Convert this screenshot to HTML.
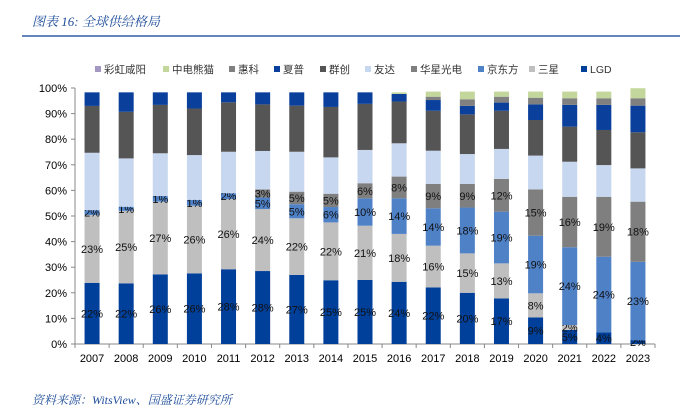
<!DOCTYPE html>
<html><head><meta charset="utf-8">
<style>
body{margin:0;background:#fff;width:680px;height:406px;overflow:hidden;font-family:"Liberation Sans","Noto Sans CJK SC",sans-serif;}
svg{display:block}
</style></head>
<body>
<svg id="chart" width="680" height="406" xmlns="http://www.w3.org/2000/svg">
<text x="32" y="26" font-size="13" font-style="italic" fill="#1f4e9a" font-family="Liberation Serif,Noto Serif CJK SC,serif">图表 16:  全球供给格局</text>
<line x1="22" y1="36" x2="680" y2="36" stroke="#2e5da8" stroke-width="1.5"/>
<g id="legend"></g>
<g id="axes"></g>
<g id="bars"></g>
<text x="32" y="404" font-size="12" font-style="italic" fill="#1f4e9a" font-family="Liberation Serif,Noto Serif CJK SC,serif">资料来源：WitsView、国盛证券研究所</text>
</svg>
<script>
const years=["2007","2008","2009","2010","2011","2012","2013","2014","2015","2016","2017","2018","2019","2020","2021","2022","2023"];
const lgd=[23.9,23.7,27.2,27.6,29.2,28.5,27,24.9,25,24.3,22.1,20,17.8,10.4,5.5,4.6,1.5];
const samsung=[26.5,28.3,28.4,26.4,27.4,24.2,22.1,22.6,21.2,18.7,16.3,15.4,13.7,9.4,1.9,0,0];
const boe=[1.9,1.6,2.2,2.3,2.3,4.5,5.5,6,10.7,13.9,14.6,17.9,20.2,22.5,30.4,29.5,30.6];
const csot=[0,0,0,0,0,3.2,4.9,5.2,5.9,8.5,9.5,9.2,12.8,18.1,19.7,23.4,23.5];
const auo=[22.4,18.9,16.7,17.5,16.2,15,15.6,14.2,13,13,13,11.7,11.7,13.2,13.7,12.4,13];
const innolux=[18.3,18.2,18.9,18.2,19.3,18.2,18,19.7,18,16.3,15.6,15.5,14.9,13.9,13.7,13.7,14.1];
const sharp=[5.3,7.6,4.9,6.3,3.9,4.7,5.2,5.7,4.5,3,4.2,3.3,3.2,6.1,8.5,9.8,10.4];
const hkc=[0,0,0,0,0,0,0,0,0,0,1.3,2.6,2.3,2.6,2.6,2.6,2.9];
const panda=[0,0,0,0,0,0,0,0,0,0.6,2,3,2,2.4,2.6,2.6,3.9];
const caihong=[0,0,0,0,0,0,0,0,0,0,0,0,0,0,0,0,0];
const lgdLabels=["22%","22%","26%","26%","28%","28%","27%","25%","25%","24%","22%","20%","17%","9%","5%","4%","2%"];
const samsungLabels=["23%","25%","27%","26%","26%","24%","22%","22%","21%","18%","16%","15%","13%","8%","2%","",""];
const boeLabels=["2%","1%","1%","1%","2%","5%","5%","6%","10%","14%","14%","18%","19%","19%","24%","24%","23%"];
const csotLabels=["","","","","","3%","5%","5%","6%","8%","9%","9%","12%","15%","16%","19%","18%"];
const yTicks=[0,10,20,30,40,50,60,70,80,90,100];

const series=[
 {name:"LGD",v:lgd,c:"#003f9a",lab:lgdLabels},
 {name:"三星",v:samsung,c:"#bfbfbf",lab:samsungLabels},
 {name:"京东方",v:boe,c:"#4f81c7",lab:boeLabels},
 {name:"华星光电",v:csot,c:"#7f7f7f",lab:csotLabels},
 {name:"友达",v:auo,c:"#c6d7ef"},
 {name:"群创",v:innolux,c:"#555555"},
 {name:"夏普",v:sharp,c:"#0a3f9c"},
 {name:"惠科",v:hkc,c:"#808080"},
 {name:"中电熊猫",v:panda,c:"#c3d69b"},
 {name:"彩虹咸阳",v:caihong,c:"#a497c4"}
];
const NS="http://www.w3.org/2000/svg";
const X0=75,X1=655,Y0=344,Y1=88;
const yS=v=>Y0-(v/100)*(Y0-Y1);
const step=(X1-X0)/years.length;
const xC=i=>X0+step*(i+0.5);
const BW=15;
function mk(t,a,p){const e=document.createElementNS(NS,t);for(const k in a)e.setAttribute(k,a[k]);p.appendChild(e);return e;}
const axes=document.getElementById('axes');
yTicks.forEach(t=>{
 const tx=mk('text',{x:67,y:yS(t)+4,'font-size':11,'text-anchor':'end',fill:'#000'},axes);
 tx.textContent=t+'%';
 
 
 mk('line',{x1:X0-4,y1:yS(t),x2:X0,y2:yS(t),stroke:'#888'},axes);
});
mk('line',{x1:X0,y1:Y1,x2:X0,y2:Y0,stroke:'#888'},axes);
mk('line',{x1:X0,y1:Y0,x2:X1,y2:Y0,stroke:'#888'},axes);
years.forEach((y,i)=>{
 mk('line',{x1:X0+step*i,y1:Y0,x2:X0+step*i,y2:Y0+4,stroke:'#888'},axes);
 const tx=mk('text',{x:xC(i),y:362,'font-size':11,'text-anchor':'middle',fill:'#000'},axes);
 tx.textContent=y;
 
 
});
mk('line',{x1:X1,y1:Y0,x2:X1,y2:Y0+4,stroke:'#888'},axes);
const bars=document.getElementById('bars');
years.forEach((y,i)=>{
 let cum=0;
 series.forEach(s=>{
  const v=s.v[i];
  if(v>0){
   const r=mk('rect',{x:xC(i)-BW/2,y:yS(cum+v),width:BW,height:yS(cum)-yS(cum+v),fill:s.c},bars);
   
   
  }
  if(s.lab&&s.lab[i]){
   const t=mk('text',{x:xC(i),y:yS(cum+v/2)+4,'font-size':11,'text-anchor':'middle',fill:'#111'},bars);
   t.textContent=s.lab[i];
   
   
  }
  cum+=v;
 });
});
const leg=document.getElementById('legend');
const legX=[95,163,229,274,320,365,411,478,529,581];
[...series].reverse().forEach((s,i)=>{
 const r=mk('rect',{x:legX[i],y:66,width:6,height:6,fill:s.c},leg);
 
 
 const t=mk('text',{x:legX[i]+9,y:73,'font-size':10.5,fill:'#333'},leg);
 t.textContent=s.name;
 
 
});
</script>
</body></html>
